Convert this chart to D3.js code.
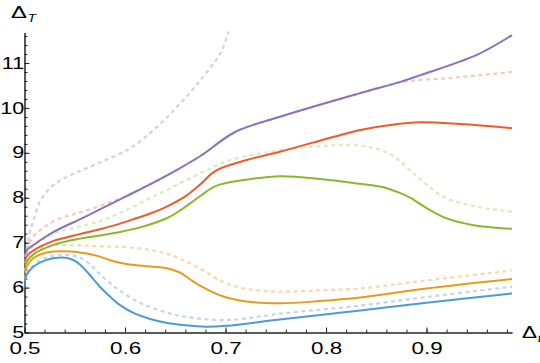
<!DOCTYPE html>
<html>
<head>
<meta charset="utf-8">
<script src="https://cdn.jsdelivr.net/npm/d3@7"></script>
<style>
  body { margin: 0; background: #fff; }
  svg { display: block; }
  .axis text { font-family: "Liberation Sans", Arial, sans-serif; fill: #000; }
  .axis path, .axis line { stroke: #222; }
  .label { font-family: "Liberation Sans", Arial, sans-serif; fill: #000; }
</style>
</head>
<body>
<div id="chart"></div>
<script>

// ---- data: [Delta_t, Delta_T] pairs
let blueSolid = [[0.5,5.98],[0.502,6.28],[0.509,6.47],[0.52,6.6],[0.537,6.67],[0.548,6.62],[0.556,6.5],[0.565,6.28],[0.575,6.02],
  [0.585,5.8],[0.595,5.61],[0.61,5.42],[0.625,5.3],[0.642,5.21],[0.66,5.16],[0.68,5.13],[0.701,5.15],[0.754,5.29],[0.834,5.49],[0.9,5.66],[0.985,5.87]];
let orangeSolid = [[0.5,6.3],[0.503,6.5],[0.509,6.66],[0.522,6.78],[0.539,6.81],[0.562,6.76],[0.575,6.69],[0.585,6.61],[0.6,6.53],
  [0.625,6.47],[0.642,6.43],[0.655,6.33],[0.665,6.18],[0.675,6.04],[0.698,5.8],[0.721,5.69],[0.755,5.65],[0.794,5.7],[0.834,5.78],[0.9,5.98],[0.985,6.19]];
let greenSolid = [[0.5,6.47],[0.503,6.6],[0.509,6.74],[0.529,6.95],[0.555,7.09],[0.575,7.16],[0.595,7.24],[0.615,7.34],[0.642,7.55],
  [0.655,7.72],[0.675,8.04],[0.69,8.26],[0.72,8.4],[0.755,8.48],[0.794,8.42],[0.834,8.31],[0.856,8.24],[0.872,8.12],[0.884,8.0],
  [0.9,7.77],[0.92,7.54],[0.947,7.39],[0.985,7.31]];
let redSolid = [[0.5,6.58],[0.503,6.72],[0.509,6.83],[0.529,7.04],[0.555,7.19],[0.575,7.3],[0.59,7.39],[0.608,7.52],[0.625,7.65],[0.642,7.81],
  [0.66,8.03],[0.675,8.3],[0.69,8.6],[0.721,8.84],[0.755,9.03],[0.808,9.36],[0.834,9.51],[0.864,9.62],[0.894,9.68],[0.934,9.64],[0.985,9.55]];
let purpleSolid = [[0.5,6.72],[0.503,6.85],[0.509,6.95],[0.529,7.24],[0.555,7.52],[0.575,7.74],[0.6,8.02],[0.625,8.3],[0.65,8.6],
  [0.675,8.93],[0.71,9.47],[0.755,9.81],[0.834,10.33],[0.874,10.58],[0.894,10.73],[0.95,11.18],[0.985,11.62]];

let blueDotted = [[0.5,6.15],[0.505,6.4],[0.515,6.6],[0.53,6.72],[0.545,6.72],[0.555,6.67],[0.565,6.52],[0.575,6.3],[0.585,6.1],
  [0.595,5.93],[0.615,5.66],[0.642,5.44],[0.66,5.35],[0.69,5.28],[0.71,5.29],[0.755,5.42],[0.834,5.6],[0.9,5.79],[0.985,6.02]];
let orangeDotted = [[0.5,6.35],[0.504,6.65],[0.51,6.82],[0.525,6.93],[0.555,6.94],[0.575,6.92],[0.6,6.9],[0.625,6.84],[0.642,6.75],
  [0.655,6.64],[0.675,6.42],[0.698,6.12],[0.721,5.97],[0.755,5.91],[0.794,5.94],[0.834,5.98],[0.9,6.16],[0.985,6.38]];
let greenDotted = [[0.5,6.55],[0.504,6.8],[0.51,6.95],[0.529,7.2],[0.555,7.36],[0.575,7.48],[0.59,7.61],[0.608,7.8],[0.625,7.99],[0.642,8.18],
  [0.66,8.38],[0.68,8.6],[0.705,8.84],[0.755,9.06],[0.794,9.15],[0.834,9.16],[0.864,8.97],[0.89,8.48],[0.917,8.02],[0.95,7.8],[0.985,7.69]];
let redDotted = [[0.5,6.68],[0.503,6.9],[0.509,7.15],[0.52,7.35],[0.533,7.52],[0.55,7.64],[0.565,7.74],[0.585,7.9],[0.6,8.03],
  [0.625,8.31],[0.65,8.6],[0.675,8.93],[0.71,9.47],[0.755,9.81],[0.834,10.33],[0.874,10.57],[0.93,10.68],[0.985,10.8]];
let purpleDotted = [[0.5,6.2],[0.502,6.75],[0.505,7.2],[0.509,7.5],[0.5155,7.92],[0.525,8.2],[0.535,8.38],[0.55,8.55],[0.562,8.66],
  [0.579,8.82],[0.605,9.1],[0.628,9.5],[0.652,10.03],[0.675,10.62],[0.695,11.22],[0.703,11.7]];

let xTicks = [0.5, 0.6, 0.7, 0.8, 0.9];
let yTicks = [5, 6, 7, 8, 9, 10, 11];
let xLabel = "t", yLabel = "T";

// ---- layout
let width = 540, height = 363;
let xDomain = [0.5, 0.985], yDomain = [5, 11.68];
let sx = 1.4;   // the reference text is stretched horizontally

let svg = d3.select("#chart").append("svg")
    .attr("width", width)
    .attr("height", height);

let xscale = d3.scaleLinear().domain(xDomain).range([24.5, 512]);
let yscale = d3.scaleLinear().domain(yDomain).range([332.5, 32.5]);

// minor ticks first, then major ones with labels
let xMinor = d3.range(0.5, 0.9801, 0.02).map(d => +d.toFixed(2));
let yMinor = d3.range(5, 11.61, 0.2).map(d => +d.toFixed(1));

svg.append("g")
    .attr("class", "x axis")
    .attr("transform", "translate(0," + yscale(5) + ")")
    .call(d3.axisBottom(xscale).tickValues(xMinor).tickSizeInner(-3).tickSizeOuter(0).tickFormat(""));

svg.append("g")
    .attr("class", "y axis")
    .attr("transform", "translate(" + xscale(0.5) + ",0)")
    .call(d3.axisLeft(yscale).tickValues(yMinor).tickSizeInner(-3).tickSizeOuter(0).tickFormat(""));

let gx = svg.append("g")
    .attr("class", "x axis")
    .attr("transform", "translate(0," + yscale(5) + ")")
    .call(d3.axisBottom(xscale).tickValues(xTicks).tickSizeInner(-5).tickSizeOuter(0)
          .tickPadding(10).tickFormat(d3.format(".1f")));

let gy = svg.append("g")
    .attr("class", "y axis")
    .attr("transform", "translate(" + xscale(0.5) + ",0)")
    .call(d3.axisLeft(yscale).tickValues(yTicks).tickSizeInner(-5).tickSizeOuter(0)
          .tickFormat(d3.format("d")));

gx.selectAll("text")
    .attr("font-size", 16)
    .attr("transform", "scale(" + sx + ",1)");

gy.selectAll("text")
    .attr("font-size", 16)
    .attr("x", -0.3 / sx)
    .attr("transform", "scale(" + (sx - 0.05) + ",1)");

// ---- curves
let line = d3.line()
    .x(d => xscale(d[0]))
    .y(d => yscale(d[1]))
    .curve(d3.curveCatmullRom.alpha(0.5));

svg.append("clipPath")
    .attr("id", "plotclip")
  .append("rect")
    .attr("x", xscale(0.5)).attr("y", 30)
    .attr("width", width - xscale(0.5)).attr("height", yscale(5) - 30);

let plot = svg.append("g").attr("clip-path", "url(#plotclip)");

let dotted = [
  {data: blueDotted,   color: "#c3d5ee"},
  {data: orangeDotted, color: "#f6d9a8"},
  {data: greenDotted,  color: "#dce8bf"},
  {data: redDotted,    color: "#f9c8b8"},
  {data: purpleDotted, color: "#d2d0ec"}
];

let solid = [
  {data: blueSolid,   color: "#4e9ad2"},
  {data: orangeSolid, color: "#e39c1e"},
  {data: greenSolid,  color: "#8db62f"},
  {data: redSolid,    color: "#ec5b2c"},
  {data: purpleSolid, color: "#8a73b9"}
];

plot.selectAll(".dotted")
    .data(dotted)
  .enter().append("path")
    .attr("class", "dotted")
    .attr("d", d => line(d.data))
    .attr("fill", "none")
    .attr("stroke", d => d.color)
    .attr("stroke-width", 2.2)
    .attr("stroke-dasharray", "4,3.5");

plot.selectAll(".solid")
    .data(solid)
  .enter().append("path")
    .attr("class", "solid")
    .attr("d", d => line(d.data))
    .attr("fill", "none")
    .attr("stroke", d => d.color)
    .attr("stroke-width", 2);

// ---- axis labels (Delta with subscripts)
function addLabel(x, y, size, sub) {
  let t = svg.append("text")
      .attr("class", "label")
      .attr("transform", "translate(" + x + "," + y + ") scale(" + sx + ",1)");
  t.append("tspan").attr("font-size", size).text("Δ");
  t.append("tspan").attr("font-size", 10).attr("font-style", "italic")
      .attr("dx", 0.5).attr("dy", 3.5).text(sub);
}

addLabel(11, 18, 17, yLabel);
addLabel(522, 338, 16, xLabel);

</script>
</body>
</html>
